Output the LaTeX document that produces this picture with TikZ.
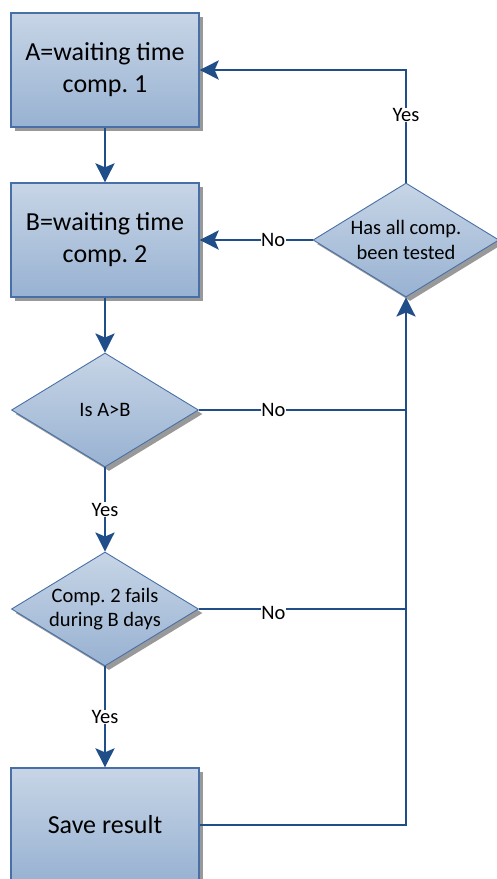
\documentclass[tikz,border=0pt]{standalone}
\usepackage{fontspec}
\setmainfont{Carlito}
\frenchspacing
\usetikzlibrary{shapes.geometric,arrows.meta,shadows,calc}
\definecolor{boxtop}{RGB}{199,213,230}
\definecolor{boxbot}{RGB}{152,178,210}
\definecolor{boxedge}{RGB}{72,112,166}
\definecolor{conncol}{RGB}{32,78,136}
\tikzset{
  shd/.style={drop shadow={shadow xshift=4pt,shadow yshift=-4pt,fill=black!40,opacity=1}},
  procbox/.style={rectangle,minimum width=188pt,minimum height=114pt,inner sep=0pt,
    top color=boxtop,bottom color=boxbot,draw=boxedge,line width=1.3pt,shd,
    align=center,font=\fontsize{26}{32}\selectfont},
  decbox/.style={diamond,minimum width=187pt,minimum height=114pt,inner sep=0pt,
    top color=boxtop,bottom color=boxbot,draw=boxedge,line width=0.9pt,shd},
  dectext/.style={align=center,inner sep=0pt,font=\fontsize{20.5}{24.5}\selectfont},
  wire/.style={draw=conncol,line width=2.8pt},
  conn/.style={wire,-{Stealth[length=19pt,width=19pt,inset=4pt]}},
  lbl/.style={fill=white,inner sep=0.5pt,font=\fontsize{20.5}{24}\selectfont,text=black}
}
\begin{document}
\begin{tikzpicture}[x=1pt,y=-1pt]
\useasboundingbox (0,0) rectangle (496,879);
\node[procbox] (A) at (105,70) {A=waiting time\\comp. 1};
\node[procbox] (B) at (105,240) {B=waiting time\\comp. 2};
\node[decbox] (D1) at (105,410) {};
\node[dectext] (D1t) at (D1.center) {Is A>B};
\node[decbox] (D2) at (105,609) {};
\node[dectext] (D2t) at (D2.center) {Comp. 2 fails\\during B days};
\node[procbox] (S) at (105,825) {Save result};
\node[decbox,minimum width=186pt] (D3) at (406,240) {};
\node[dectext] (D3t) at (D3.center) {Has all comp.\\been tested};
\coordinate (J1) at (D1.east -| D3.south);
\coordinate (J2) at (D2.east -| D3.south);
\draw[conn] (A) -- (B);
\draw[conn] (B) -- (D1);
\draw[conn] (D1) -- node[lbl]{Yes} (D2);
\draw[conn] (D2) -- node[lbl]{Yes} (S);
\draw[conn] (S.east) -| (D3.south);
\draw[wire] (D1.east) -- node[lbl,pos=0.36]{No} (J1);
\draw[wire] (D2.east) -- node[lbl,pos=0.36,yshift=-4pt]{No} (J2);
\draw[conn] (D3.west) -- node[lbl,pos=0.35]{No} (B.east);
\draw[conn] (D3.north) |- node[lbl,pos=0.3]{Yes} (A.east);
\end{tikzpicture}
\end{document}
